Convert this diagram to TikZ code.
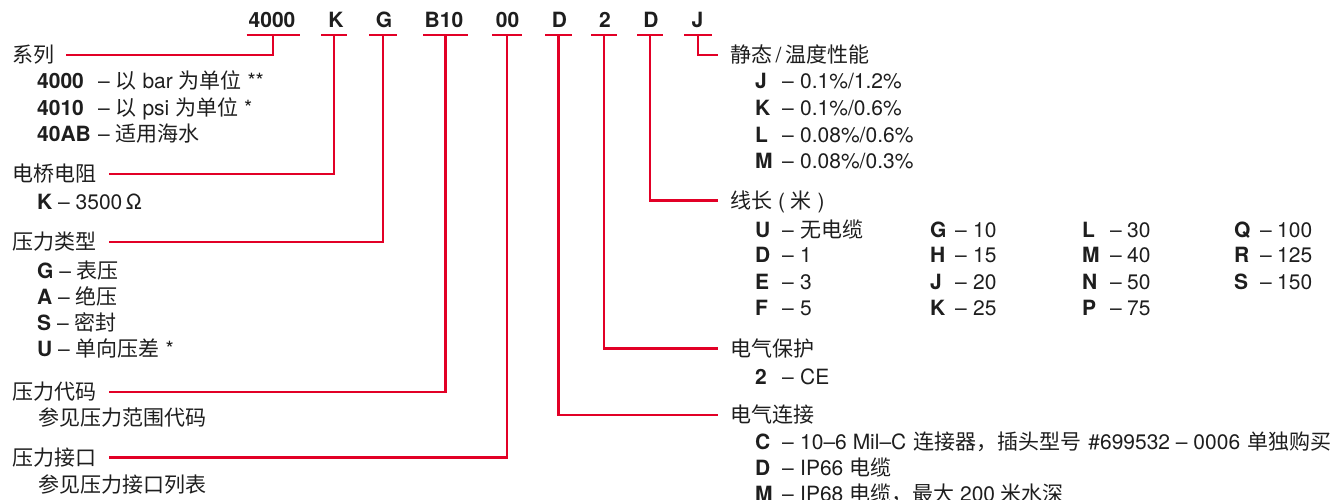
\documentclass[tikz,border=0pt]{standalone}
\usepackage{fontspec}
\setmainfont{TeX Gyre Heros}
\newfontfamily\cjk{Noto Sans CJK SC}
\definecolor{brandred}{RGB}{226,0,38}
\definecolor{ink}{RGB}{30,30,30}
\newcommand\zh[1]{{\cjk #1}}
% name, x, y, code, dash x, value x, value
\newcommand\optrow[7]{%
  \node[code] (#1c) at (#2,#3) {#4};
  \node[txt] (#1d) at (#5,#3) {--};
  \node[txt] (#1v) at (#6,#3) {#7};}
\begin{document}
\begin{tikzpicture}[x=1pt,y=-1pt,
  txt/.style={font=\fontsize{21}{26}\selectfont, inner sep=0pt, anchor=base west, text=ink},
  code/.style={txt, font=\fontsize{21}{26}\selectfont\bfseries},
  hcode/.style={code, anchor=base},
  redline/.style={draw=brandred, line width=2.8pt, line join=miter},
]
\useasboundingbox (0,0) rectangle (1343,499);
\clip (0,0) rectangle (1343,499);

% ---------- header codes ----------
\node[hcode] (h1) at (272,27.5) {4000};
\node[hcode] (h2) at (336,27.5) {K};
\node[hcode] (h3) at (384,27.5) {G};
\node[hcode] (h4) at (444,27.5) {B10};
\node[hcode] (h5) at (507.5,27.5) {00};
\node[hcode] (h6) at (559.5,27.5) {D};
\node[hcode] (h7) at (605,27.5) {2};
\node[hcode] (h8) at (651,27.5) {D};
\node[hcode] (h9) at (697.5,27.5) {J};

\coordinate (u1) at (273,35);
\coordinate (u2) at (334,35);
\coordinate (u3) at (383,35);
\coordinate (u4) at (445.5,35);
\coordinate (u5) at (507,35);
\coordinate (u6) at (558.5,35);
\coordinate (u7) at (604,35);
\coordinate (u8) at (650,35);
\coordinate (u9) at (698,35);

\draw[redline] ([xshift=-26.5pt]u1) -- ([xshift=26.5pt]u1);
\draw[redline] ([xshift=-13pt]u2) -- ([xshift=13pt]u2);
\draw[redline] ([xshift=-14pt]u3) -- ([xshift=14pt]u3);
\draw[redline] ([xshift=-22.5pt]u4) -- ([xshift=22.5pt]u4);
\draw[redline] ([xshift=-15pt]u5) -- ([xshift=15pt]u5);
\draw[redline] ([xshift=-13.5pt]u6) -- ([xshift=13.5pt]u6);
\draw[redline] ([xshift=-13pt]u7) -- ([xshift=13pt]u7);
\draw[redline] ([xshift=-13pt]u8) -- ([xshift=13pt]u8);
\draw[redline] ([xshift=-14pt]u9) -- ([xshift=14pt]u9);

% ---------- left labels ----------
\node[txt] (l1) at (12,62.5) {\zh{系列}};
\node[code] (a1c) at (37,88.5) {4000};
\node[txt] (a1x) at (98,88.5) {-- \zh{以} bar \zh{为单位} **};
\node[code] (a2c) at (37,115) {4010};
\node[txt] (a2x) at (98,115) {-- \zh{以} psi \zh{为单位} *};
\node[code] (a3c) at (37,141) {40AB};
\node[txt] (a3x) at (98,141) {-- \zh{适用海水}};

\node[txt] (l2) at (12,181.5) {\zh{电桥电阻}};
\node[txt] (b1) at (37,209.5) {\textbf{K} -- 3500\,Ω};

\node[txt] (l3) at (12,249) {\zh{压力类型}};
\node[txt] (c1) at (37,278) {\textbf{G} -- \zh{表压}};
\node[txt] (c2) at (37,304) {\textbf{A} -- \zh{绝压}};
\node[txt] (c3) at (37,330) {\textbf{S} -- \zh{密封}};
\node[txt] (c4) at (37,356) {\textbf{U} -- \zh{单向压差} *};

\node[txt] (l4) at (12,399) {\zh{压力代码}};
\node[txt] (d1) at (38,425.5) {\zh{参见压力范围代码}};

\node[txt] (l5) at (12,465) {\zh{压力接口}};
\node[txt] (e1) at (38,492) {\zh{参见压力接口列表}};

% ---------- right labels ----------
\node[txt] (r1) at (730,62.5) {\zh{静态}\,/\,\zh{温度性能}};
\optrow{j1}{755}{88}{J}{782}{800}{0.1\%/1.2\%}
\optrow{j2}{755}{115}{K}{782}{800}{0.1\%/0.6\%}
\optrow{j3}{755}{142}{L}{782}{800}{0.08\%/0.6\%}
\optrow{j4}{755}{168}{M}{782}{800}{0.08\%/0.3\%}

\node[txt] (r2) at (730,208) {\zh{线长} ( \zh{米} )};
\optrow{k1}{755}{237}{U}{782}{800}{\zh{无电缆}}
\optrow{k2}{755}{262.5}{D}{782}{800}{1}
\optrow{k3}{755}{289}{E}{782}{800}{3}
\optrow{k4}{755}{315}{F}{782}{800}{5}
\optrow{k5}{930}{237}{G}{955}{973}{10}
\optrow{k6}{930}{262.5}{H}{955}{973}{15}
\optrow{k7}{930}{289}{J}{955}{973}{20}
\optrow{k8}{930}{315}{K}{955}{973}{25}
\optrow{k9}{1082}{237}{L}{1110}{1127}{30}
\optrow{k10}{1082}{262.5}{M}{1110}{1127}{40}
\optrow{k11}{1082}{289}{N}{1110}{1127}{50}
\optrow{k12}{1082}{315}{P}{1110}{1127}{75}
\optrow{k13}{1234}{237}{Q}{1260}{1277}{100}
\optrow{k14}{1234}{262.5}{R}{1260}{1277}{125}
\optrow{k15}{1234}{289}{S}{1260}{1277}{150}

\node[txt] (r3) at (730,356) {\zh{电气保护}};
\optrow{m1}{755}{384.5}{2}{782}{800}{CE}

\node[txt] (r4) at (730,422) {\zh{电气连接}};
\optrow{n1}{755}{449.5}{C}{782}{800}{10--6 Mil--C\hspace{7pt}\zh{连接器，插头型号}\hspace{7pt}\#699532 -- 0006\hspace{7pt}\zh{单独购买}}
\optrow{n2}{755}{475.5}{D}{782}{800}{IP66 \zh{电缆}}
\optrow{n3}{755}{501.5}{M}{782}{800}{IP68 \zh{电缆，最大} 200 \zh{米水深}}

% ---------- connector ends ----------
\coordinate (p1) at (66,55);
\coordinate (p2) at (109,174);
\coordinate (p3) at (109,242);
\coordinate (p4) at (109,392);
\coordinate (p5) at (109,457.5);
\coordinate (q9) at (718,55);
\coordinate (q8) at (718,200.5);
\coordinate (q7) at (718,348.5);
\coordinate (q6) at (718,415);

\draw[redline] (u1) |- (p1);
\draw[redline] (u2) |- (p2);
\draw[redline] (u3) |- (p3);
\draw[redline] (u4) |- (p4);
\draw[redline] (u5) |- (p5);
\draw[redline] (u9) |- (q9);
\draw[redline] (u8) |- (q8);
\draw[redline] (u7) |- (q7);
\draw[redline] (u6) |- (q6);
\end{tikzpicture}
\end{document}
